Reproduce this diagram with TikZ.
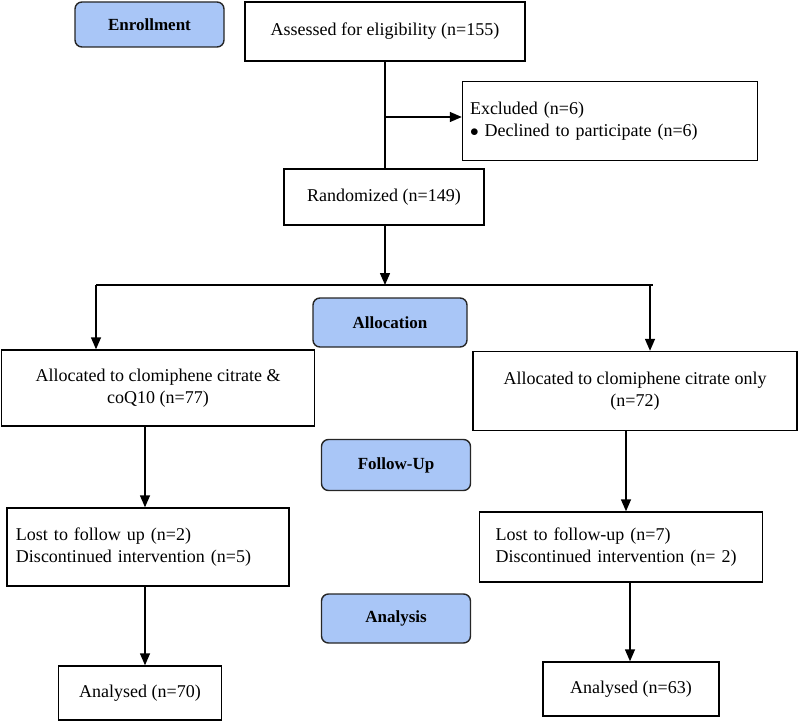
\documentclass[tikz,border=0pt]{standalone}
\usepackage{fontspec}
\setmainfont{Liberation Serif}
\usetikzlibrary{arrows.meta}
\definecolor{phase}{HTML}{A9C6F7}
\begin{document}
\begin{tikzpicture}[
x=1pt,y=-1pt,
box/.style={
  draw,
  line width=1.4pt,
  rectangle,
  inner sep=0pt,
  font=\fontsize{18}{22}\selectfont
  },
stage/.style={
  draw=black!85,
  line width=1.4pt,
  fill=phase,
  rounded corners=7pt,
  inner sep=0pt,
  font=\bfseries\fontsize{17}{20}\selectfont
  },
link/.style={
  line width=1.4pt
  },
>={Triangle[length=12pt,width=10pt]}
]
\useasboundingbox (0,0) rectangle (798,722);
% phases
\node[stage,minimum width=149pt,minimum height=45pt] (enrol) at (149.5,24.5) {Enrollment};
\node[stage,minimum width=154pt,minimum height=49pt] (alloc) at (390,322.5) {Allocation};
\node[stage,minimum width=149pt,minimum height=51pt] (follow) at (396,465) {Follow-Up};
\node[stage,minimum width=149pt,minimum height=49pt] (anal) at (396,618.5) {Analysis};
% boxes
\node[box,minimum width=280pt,minimum height=59pt] (assess) at (385,31.5) {Assessed for eligibility (n=155)};
\node[box,minimum width=295pt,minimum height=79pt,text width=280pt,align=left] (excl) at (610,121) {Excluded (n=6)\\$\bullet$ Declined to participate (n=6)};
\node[box,minimum width=200pt,minimum height=56pt] (rand) at (384,197) {Randomized (n=149)};
\node[box,minimum width=313pt,minimum height=76pt,align=center] (allocL) at (158,388) {Allocated to clomiphene citrate \&\\coQ10 (n=77)};
\node[box,minimum width=324pt,minimum height=79pt,align=center] (allocR) at (635,391) {Allocated to clomiphene citrate only\\(n=72)};
\node[box,minimum width=282pt,minimum height=78pt,text width=264pt,align=left] (lostL) at (148,547) {Lost to follow up (n=2)\\Discontinued intervention (n=5)};
\node[box,minimum width=283pt,minimum height=70pt,text width=251pt,align=left] (lostR) at (621,547) {Lost to follow-up (n=7)\\Discontinued intervention (n= 2)};
\node[box,minimum width=163pt,minimum height=54pt] (anaL) at (140,693) {Analysed (n=70)};
\node[box,minimum width=176pt,minimum height=54pt] (anaR) at (631,689) {Analysed (n=63)};
% connectors
\coordinate (split) at (385,285);
\coordinate (branch) at (385,117);
\draw[link] (assess.south -| branch) -- (rand.north -| branch);
\draw[link,->] (branch) -- (excl.west |- branch);
\draw[link,->] (rand.south -| split) -- (split);
\draw[link] (split -| 96,0) -- (split -| 653,0);
\draw[link,->] (split -| 96,0) -- (allocL.north -| 96,0);
\draw[link,->] (split -| 650,0) -- (allocR.north -| 650,0);
\draw[link,->] (allocL.south -| 145,0) -- (lostL.north -| 145,0);
\draw[link,->] (allocR.south -| 626,0) -- (lostR.north -| 626,0);
\draw[link,->] (lostL.south -| 145,0) -- (anaL.north -| 145,0);
\draw[link,->] (lostR.south -| 630,0) -- (anaR.north -| 630,0);
\end{tikzpicture}
\end{document}
